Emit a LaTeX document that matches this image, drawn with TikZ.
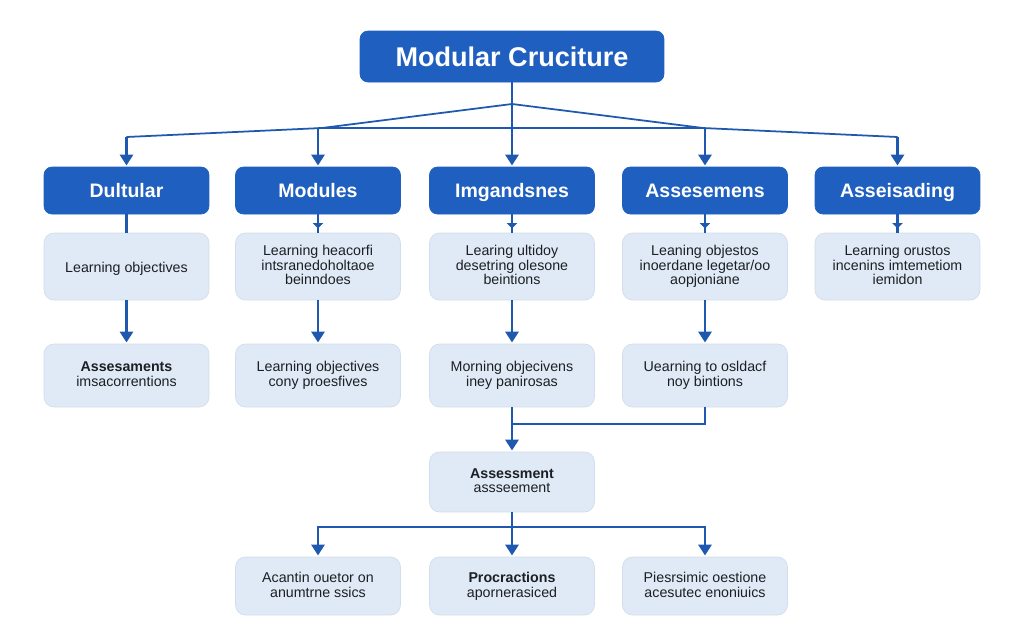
\documentclass[tikz,border=0pt]{standalone}
\usepackage{fontspec}
\setmainfont{Liberation Sans}
\usetikzlibrary{arrows.meta}

\definecolor{headblue}{HTML}{1F5FBF}
\definecolor{paleblue}{HTML}{DFEAF6}
\definecolor{paleedge}{HTML}{D2DEEC}
\definecolor{linkblue}{HTML}{1E58AF}
\definecolor{inktext}{HTML}{1C1F24}

\tikzset{
  headbox/.style={draw=headblue, fill=headblue, rounded corners=0.16cm, minimum width=3.3cm, minimum height=0.94cm,
    inner sep=0pt, text=white, text height=8pt, text depth=0pt, font=\fontsize{11.1}{13}\selectfont\bfseries},
  palebox/.style={draw=paleedge, fill=paleblue, rounded corners=0.2cm, minimum width=3.3cm, inner sep=0pt, align=center,
    text=inktext, font=\fontsize{8.1}{8.4}\selectfont,
    execute at begin node={\rule[-1.7pt]{0pt}{9.9pt}}, execute at end node={\rule[-1.7pt]{0pt}{1.7pt}}},
  link/.style={draw=linkblue, line width=1.3pt},
  thinlink/.style={draw=linkblue, line width=1pt},
  arrowlink/.style={link, shorten >=0.7pt, -{Triangle[length=6.2pt, width=7.6pt]}},
  tinytip/.style={link, -{Triangle[length=3pt, width=6pt]}}
}

\begin{document}
\begin{tikzpicture}[x=0.02cm, y=-0.02cm]
\useasboundingbox (0,0) rectangle (1024,640);

%% top box
\node[headbox, minimum width=6.08cm, minimum height=1.02cm, text height=11pt, font=\fontsize{15.4}{17}\selectfont\bfseries] (title) at (512,56.5) {Modular Cruciture};

%% head row
\node[headbox] (dultular) at (126.5,190.5) {Dultular};
\node[headbox] (modules) at (318,190.5) {Modules};
\node[headbox] (imgand) at (512,190.5) {Imgandsnes};
\node[headbox] (assesem) at (705,190.5) {Assesemens};
\node[headbox] (asseis) at (897.5,190.5) {Asseisading};

%% second row
\node[palebox, minimum height=1.34cm] (objone) at (126.5,266.5) {Learning objectives};
\node[palebox, minimum height=1.34cm] (objtwo) at (318,266.5) {Learning heacorfi\\intsranedoholtaoe\\beinndoes};
\node[palebox, minimum height=1.34cm] (objthree) at (512,266.5) {Learing ultidoy\\desetring olesone\\beintions};
\node[palebox, minimum height=1.34cm] (objfour) at (705,266.5) {Leaning objestos\\inoerdane legetar/oo\\aopjoniane};
\node[palebox, minimum height=1.34cm] (objfive) at (897.5,266.5) {Learning orustos\\incenins imtemetiom\\iemidon};

%% third row
\node[palebox, minimum height=1.26cm] (resone) at (126.5,375.5) {\textbf{Assesaments}\\imsacorrentions};
\node[palebox, minimum height=1.26cm] (restwo) at (318,375.5) {Learning objectives\\cony proesfives};
\node[palebox, minimum height=1.26cm] (resthree) at (512,375.5) {Morning objecivens\\iney panirosas};
\node[palebox, minimum height=1.26cm] (resfour) at (705,375.5) {Uearning to osldacf\\noy bintions};

%% assessment and bottom row
\node[palebox, minimum height=1.2cm] (assess) at (512,482) {\textbf{Assessment}\\assseement};
\node[palebox, minimum height=1.16cm] (acantin) at (318,586) {Acantin ouetor on\\anumtrne ssics};
\node[palebox, minimum height=1.16cm] (procr) at (512,586) {\textbf{Procractions}\\apornerasiced};
\node[palebox, minimum height=1.16cm] (presr) at (705,586) {Piesrsimic oestione\\acesutec enoniuics};

%% junctions
\coordinate (apex) at (512,104);
\coordinate (kneel) at (322,128);
\coordinate (kneer) at (703,128);
\coordinate (cornl) at (126.5,137);
\coordinate (cornr) at (897.5,137);
\coordinate (barl) at (318,128);
\coordinate (barr) at (705,128);
\coordinate (joinm) at (512,424);
\coordinate (barm) at (512,527);

%% edges from the top box
\draw[arrowlink] (title) -- (imgand);
\draw[thinlink] (apex) -- (kneel) -- (cornl);
\draw[thinlink] (apex) -- (kneer) -- (cornr);
\draw[thinlink] (barl) -- (barr);
\draw[arrowlink] (cornl) -- (dultular);
\draw[arrowlink] (barl) -- (modules);
\draw[arrowlink] (barr) -- (assesem);
\draw[arrowlink] (cornr) -- (asseis);

%% head row to second row
\draw[link] (dultular) -- (objone);
\foreach \upper/\lower in {modules/objtwo, imgand/objthree, assesem/objfour, asseis/objfive}{
  \draw[link] (\upper) -- (\lower);
  \draw[tinytip, shorten >=2.5pt] (\upper.south) -- (\lower.north);
}

%% second row to third row
\draw[arrowlink] (objone) -- (resone);
\draw[arrowlink] (objtwo) -- (restwo);
\draw[arrowlink] (objthree) -- (resthree);
\draw[arrowlink] (objfour) -- (resfour);

%% third row to assessment
\draw[arrowlink] (resthree) -- (assess);
\draw[link] (resfour) |- (joinm);

%% assessment to bottom row
\draw[arrowlink] (assess) -- (procr);
\draw[arrowlink] (barm) -| (acantin);
\draw[arrowlink] (barm) -| (presr);
\end{tikzpicture}
\end{document}
